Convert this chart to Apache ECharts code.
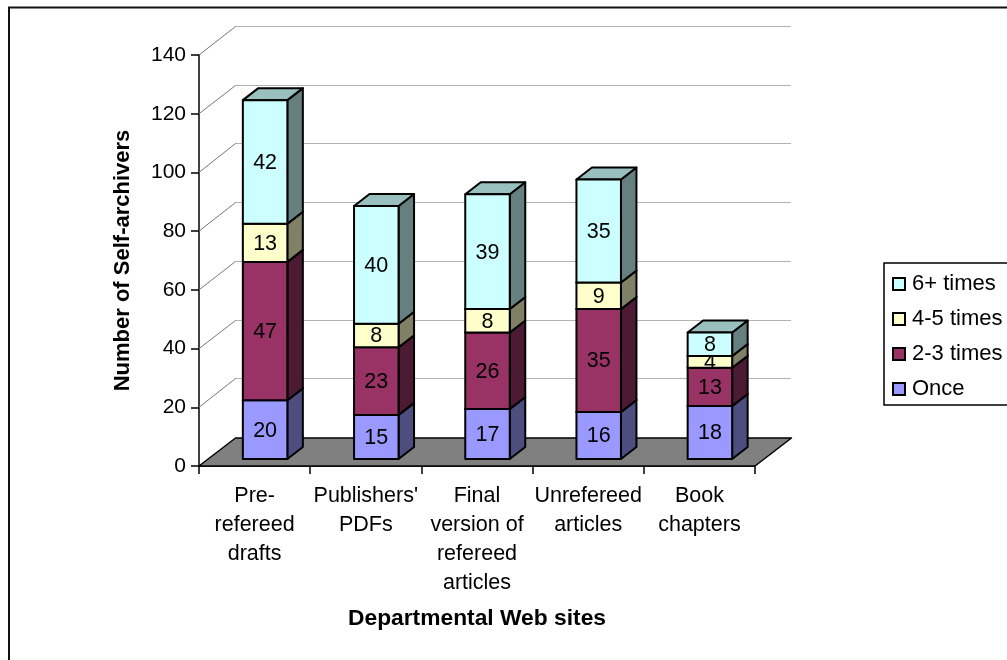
<!DOCTYPE html>
<html><head><meta charset="utf-8">
<style>html,body{margin:0;padding:0;background:#fff;overflow:hidden}#c{width:1007px;height:660px}</style>
<script src="https://cdn.jsdelivr.net/npm/echarts@6/dist/echarts.min.js"></script>
</head><body><div id="c"></div>
<script>
const categories = ["Pre-\nrefereed\ndrafts","Publishers'\nPDFs","Final\nversion of\nrefereed\narticles","Unrefereed\narticles","Book\nchapters"];
const once = [20,15,17,16,18];
const twoThree = [47,23,26,35,13];
const fourFive = [13,8,8,9,4];
const sixPlus = [42,40,39,35,8];
const yTicks = [0,20,40,60,80,100,120,140];
const stackDefs = [
  {name:'Once', values:once, front:'#9999FF', side:'#4D4D80', top:'#7373BF'},
  {name:'2-3 times', values:twoThree, front:'#993366', side:'#4D1A33', top:'#73264D'},
  {name:'4-5 times', values:fourFive, front:'#FFFFCC', side:'#808066', top:'#BFBF99'},
  {name:'6+ times', values:sixPlus, front:'#CCFFFF', side:'#668080', top:'#99BFBF'}
];
const FONT = '"Liberation Sans", Arial, sans-serif';
const wallDx = 36.5, wallDy = -28;          // full depth of the 3-D box
const barOffX = 10.5, barOffY = -7, barW = 44.5, barDx = 15.5, barDy = -12, barScale = 1.002;

function poly(points, fill, stroke, lw){
  return {type:'polygon', shape:{points}, style:{fill, stroke, lineWidth:lw, lineJoin:'round'}};
}
function barRender(def){
  return function(params, api){
    const i = api.value(0), lo = api.value(1), hi = api.value(2);
    const base = api.coord([i,0]);
    const unit = (base[1]-api.coord([i,1])[1]) * barScale;
    const xL = base[0]+barOffX-barW/2, xR = xL+barW;
    const yB = base[1]+barOffY-lo*unit, yT = base[1]+barOffY-hi*unit;
    const lw = 2;
    return {type:'group', children:[
      poly([[xR,yB],[xR+barDx,yB+barDy],[xR+barDx,yT+barDy],[xR,yT]], def.side,'#000',lw),
      poly([[xL,yT],[xR,yT],[xR+barDx,yT+barDy],[xL+barDx,yT+barDy]], def.top,'#000',lw),
      poly([[xL,yB],[xR,yB],[xR,yT],[xL,yT]], def.front,'#000',lw),
      {type:'text', z2:10, style:{x:(xL+xR)/2, y:(yB+yT)/2+1, text:String(hi-lo), align:'center', verticalAlign:'middle', fill:'#000', font:'21.5px '+FONT}}
    ]};
  };
}
const series = [];
series.push({type:'custom', name:'walls', silent:true, z:1, data:yTicks.filter(v=>v>0).map(v=>[0,v]),
  encode:{x:0,y:1},
  renderItem(params, api){
    const c = params.coordSys, p = api.coord([0,api.value(1)]);
    const x0=c.x, y=p[1], x1=x0+wallDx, y1=Math.round(y+wallDy)-0.5, x2=c.x+c.width+wallDx;
    return {type:'group', children:[
      {type:'line', shape:{x1:x0,y1:y,x2:x1,y2:y1}, style:{stroke:'#777',lineWidth:1}},
      {type:'line', shape:{x1:x1,y1:y1,x2:x2,y2:y1}, style:{stroke:'#666',lineWidth:1,lineDash:[1,1]}}
    ]};
  }});
series.push({type:'custom', name:'floor', silent:true, z:1, data:[[0,0]], encode:{x:0,y:1},
  renderItem(params, api){
    const c = params.coordSys, y = api.coord([0,0])[1], xa=c.x, xb=c.x+c.width;
    return poly([[xa,y],[xb,y],[xb+wallDx,y+wallDy],[xa+wallDx,y+wallDy]],'#808080','#000',1.5);
  }});
stackDefs.forEach((def,si)=>{
  series.push({type:'custom', name:def.name, z:3+si, silent:true,
    itemStyle:{color:def.front, borderColor:'#000', borderWidth:1.5},
    encode:{x:0,y:[1,2]},
    data:def.values.map((v,i)=>{
      let lo=0; for(let k=0;k<si;k++) lo+=stackDefs[k].values[i];
      return [i,lo,lo+v];
    }),
    renderItem:barRender(def)});
});
const chart = echarts.init(document.getElementById('c'),null,{renderer:'canvas'});
chart.setOption({
  animation:false,
  backgroundColor:'#fff',
  grid:{left:199,top:55,width:556,height:411,containLabel:false},
  xAxis:{type:'category',data:categories,boundaryGap:true,
    name:'Departmental Web sites',nameLocation:'middle',nameGap:141,
    nameTextStyle:{fontFamily:FONT,fontWeight:'bold',fontSize:22.8,color:'#000'},
    axisLine:{lineStyle:{color:'#000',width:1.5}},
    axisTick:{show:true,alignWithLabel:false,length:8,lineStyle:{color:'#000',width:1.5}},
    axisLabel:{interval:0,margin:16,fontFamily:FONT,fontSize:21.5,lineHeight:29,color:'#000',align:'center',verticalAlign:'top'},
    splitLine:{show:false}},
  yAxis:{type:'value',min:0,max:140,interval:20,
    name:'Number of Self-archivers',nameLocation:'middle',nameGap:65,
    nameTextStyle:{fontFamily:FONT,fontWeight:'bold',fontSize:22,color:'#000'},
    axisLine:{show:true,lineStyle:{color:'#000',width:1.5}},
    axisTick:{show:true,length:8,lineStyle:{color:'#000',width:1.5}},
    axisLabel:{margin:13,fontFamily:FONT,fontSize:21,color:'#000'},
    splitLine:{show:false}},
  legend:{orient:'vertical',left:884,top:263,padding:[10,40,5,8],itemWidth:12,itemHeight:12,itemGap:13,
    backgroundColor:'#fff',borderColor:'#000',borderWidth:1.5,borderRadius:0,selectedMode:false,icon:'rect',
    data:['6+ times','4-5 times','2-3 times','Once'],
    textStyle:{fontFamily:FONT,fontSize:22,color:'#000',padding:[0,0,0,2]}},
  graphic:[
    {type:'polyline',silent:true,z:100,shape:{points:[[9,660],[9,7.5],[1007,7.5]]},style:{fill:'none',stroke:'#111',lineWidth:2}}
  ],
  series
});
</script></body></html>
